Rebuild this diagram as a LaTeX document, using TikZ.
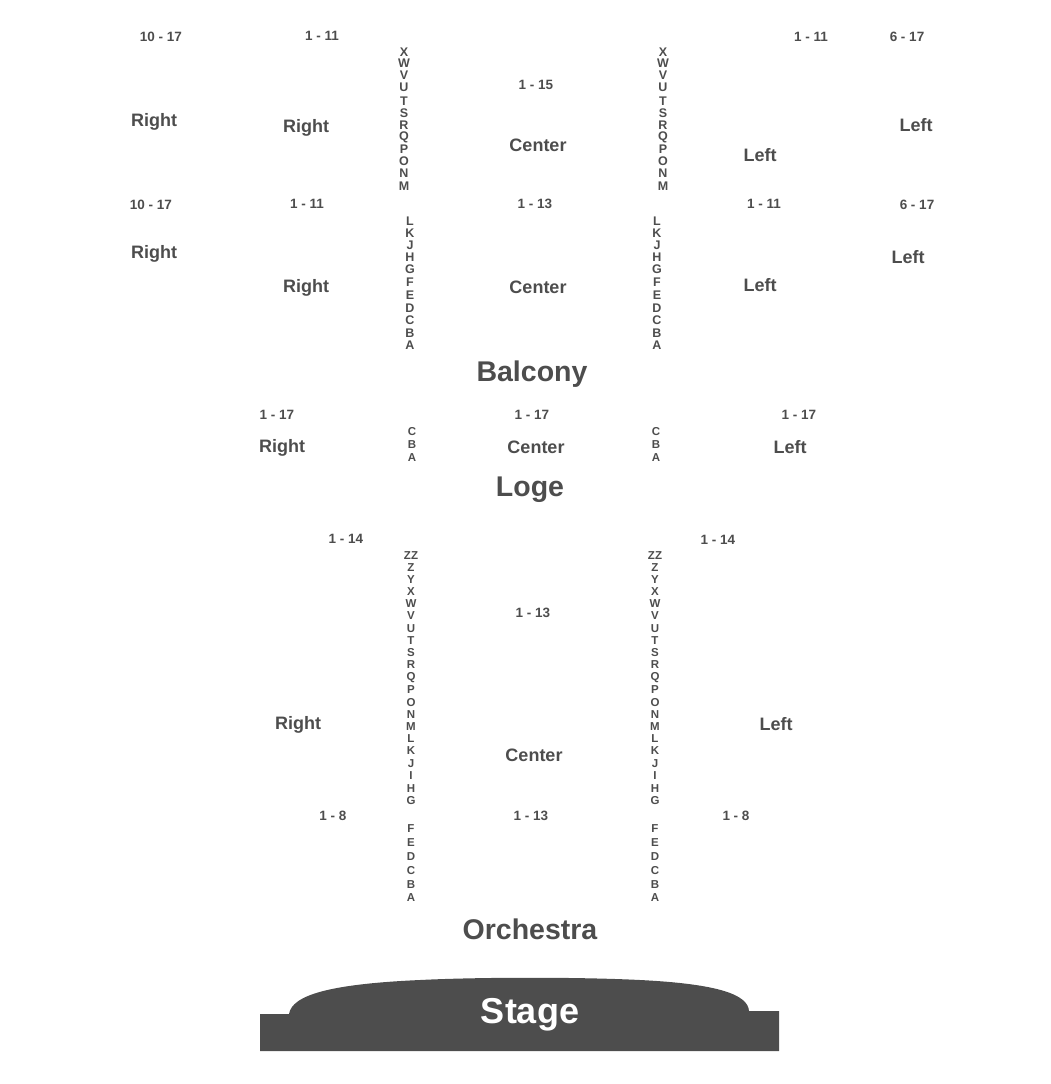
\documentclass[tikz,border=0pt]{standalone}
\usepackage{fontspec}
\setmainfont{Liberation Sans}
\definecolor{ink}{HTML}{4D4D4D}
\begin{document}
\begin{tikzpicture}[x=1pt,y=-1pt,
  lbl/.style={text=ink,font=\bfseries\fontsize{18}{18}\selectfont,inner sep=0pt},
  num/.style={text=ink,font=\bfseries\fontsize{13.5}{13.5}\selectfont,inner sep=0pt},
  rowl/.style={text=ink,font=\bfseries\fontsize{12.5}{12.5}\selectfont,inner sep=0pt},
  rows/.style={text=ink,font=\bfseries\fontsize{11.5}{11.5}\selectfont,inner sep=0pt},
  big/.style={text=ink,font=\bfseries\fontsize{28.5}{28.5}\selectfont,inner sep=0pt}]
\useasboundingbox (0,0) rectangle (1050,1084);
% Balcony upper
\node[num] (n1) at (161,37) {10 - 17};
\node[num] (n2) at (322,36) {1 - 11};
\node[num] (n3) at (811,37) {1 - 11};
\node[num] (n4) at (907,37) {6 - 17};
\node[num] (n5) at (536,85) {1 - 15};
\node[lbl] (l1) at (154,122) {Right};
\node[lbl] (l2) at (306,128) {Right};
\node[lbl] (l3) at (538,145) {Center};
\node[lbl] (l4) at (760,155) {Left};
\node[lbl] (l5) at (916,125) {Left};
\foreach \t/\y [count=\i] in {X/52,W/63,V/75,U/87,T/101,S/113,R/125,Q/137,P/149,O/161,N/173,M/186}{
  \node[rowl] (ba\i) at (404,\y) {\t};
  \node[rowl] (bb\i) at (663,\y) {\t};
}
% Balcony lower
\node[num] (n6) at (151,205) {10 - 17};
\node[num] (n7) at (307,204) {1 - 11};
\node[num] (n8) at (535,204) {1 - 13};
\node[num] (n9) at (764,204) {1 - 11};
\node[num] (n10) at (917,205) {6 - 17};
\node[lbl] (l6) at (154,254) {Right};
\node[lbl] (l7) at (306,288) {Right};
\node[lbl] (l8) at (538,287) {Center};
\node[lbl] (l9) at (760,285) {Left};
\node[lbl] (l10) at (908,257) {Left};
\foreach \t/\y [count=\i] in {L/221,K/233,J/245,H/257,G/269,F/282,E/295,D/308,C/320,B/333,A/345}{
  \node[rowl] (bc\i) at (410,\y) {\t};
  \node[rowl] (bd\i) at (657,\y) {\t};
}
\node[big] (balcony) at (532,374) {Balcony};
% Loge
\node[num] (n11) at (277,415) {1 - 17};
\node[num] (n12) at (532,415) {1 - 17};
\node[num] (n13) at (799,415) {1 - 17};
\node[lbl] (l11) at (282,448) {Right};
\node[lbl] (l12) at (536,447) {Center};
\node[lbl] (l13) at (790,447) {Left};
\foreach \t/\y [count=\i] in {C/432,B/445,A/458}{
  \node[rows] (la\i) at (412,\y) {\t};
  \node[rows] (lb\i) at (656,\y) {\t};
}
\node[big] (loge) at (530,490) {Loge};
% Orchestra
\node[num] (n14) at (346,539) {1 - 14};
\node[num] (n15) at (718,540) {1 - 14};
\node[num] (n16) at (533,613) {1 - 13};
\node[lbl] (l14) at (298,725) {Right};
\node[lbl] (l15) at (776,724) {Left};
\node[lbl] (l16) at (534,755) {Center};
\node[num] (n17) at (333,816) {1 - 8};
\node[num] (n18) at (531,816) {1 - 13};
\node[num] (n19) at (736,816) {1 - 8};
\foreach \t/\y [count=\i] in {ZZ/556,Z/568,Y/580,X/592,W/604,V/616,U/629,T/641,S/653,R/665,Q/678,P/690,O/703,N/715,M/727,L/739,K/751,J/764,I/776,H/789,G/801,F/829,E/843,D/857,C/871,B/885,A/898}{
  \node[rows] (oa\i) at (411,\y) {\t};
  \node[rows] (ob\i) at (655,\y) {\t};
}
\node[big] (orch) at (530,929) {Orchestra};
% Stage
\fill[ink] (260,1051) -- (260,1014) -- (289,1014)
  .. controls (292,995) and (330,984) .. (420,980)
  .. controls (480,977) and (580,977) .. (640,980)
  .. controls (720,984) and (748,995) .. (749,1011)
  -- (779,1011) -- (779,1051) -- cycle;
\node[text=white,font=\bfseries\fontsize{36}{36}\selectfont,inner sep=0pt] (stage) at (530,1015) {Stage};
\end{tikzpicture}
\end{document}
